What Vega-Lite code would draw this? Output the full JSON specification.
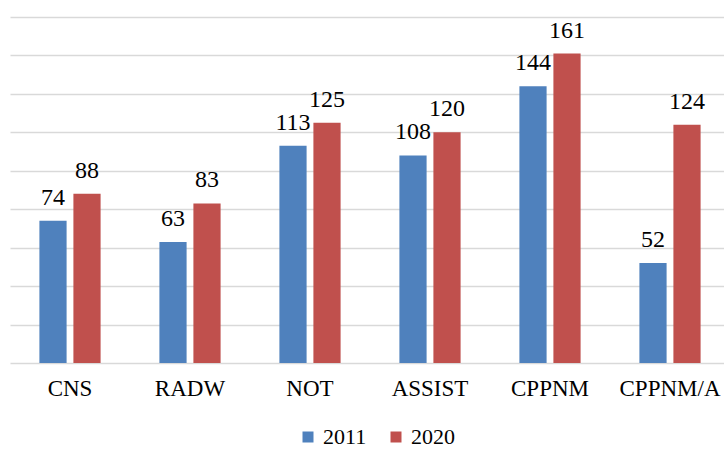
{
  "$schema": "https://vega.github.io/schema/vega-lite/v6.json",
  "width": 714,
  "height": 346,
  "autosize": {"type": "none"},
  "padding": {"left": 10, "top": 17, "right": 0, "bottom": 87},
  "config": {
    "font": "Liberation Serif",
    "view": {"stroke": null},
    "text": {"font": "Liberation Serif"},
    "legend": {"labelFont": "Liberation Serif"},
    "axis": {"labelFont": "Liberation Serif"}
  },
  "data": {
    "values": [
      {"treaty": "CNS", "year": "2011", "value": 74},
      {"treaty": "CNS", "year": "2020", "value": 88},
      {"treaty": "RADW", "year": "2011", "value": 63},
      {"treaty": "RADW", "year": "2020", "value": 83},
      {"treaty": "NOT", "year": "2011", "value": 113},
      {"treaty": "NOT", "year": "2020", "value": 125},
      {"treaty": "ASSIST", "year": "2011", "value": 108},
      {"treaty": "ASSIST", "year": "2020", "value": 120},
      {"treaty": "CPPNM", "year": "2011", "value": 144},
      {"treaty": "CPPNM", "year": "2020", "value": 161},
      {"treaty": "CPPNM/A", "year": "2011", "value": 52},
      {"treaty": "CPPNM/A", "year": "2020", "value": 124}
    ]
  },
  "encoding": {
    "x": {
      "field": "treaty",
      "type": "nominal",
      "sort": ["CNS", "RADW", "NOT", "ASSIST", "CPPNM", "CPPNM/A"],
      "scale": {"range": [0, 720], "paddingInner": 0.49, "paddingOuter": 0.245},
      "axis": {
        "title": null,
        "labelAngle": 0,
        "labelFont": "Liberation Serif",
        "labelFontSize": 23,
        "labelColor": "#000000",
        "ticks": false,
        "labelPadding": 14,
        "domainColor": "#d9d9d9",
        "domainWidth": 1.5,
        "grid": false
      }
    },
    "xOffset": {"field": "year", "type": "nominal", "scale": {"paddingInner": 0.2}},
    "y": {
      "field": "value",
      "type": "quantitative",
      "scale": {"domain": [0, 180], "nice": false},
      "axis": {
        "title": null,
        "labels": false,
        "ticks": false,
        "domain": false,
        "values": [20, 40, 60, 80, 100, 120, 140, 160, 180],
        "gridColor": "#d9d9d9",
        "gridWidth": 1.5
      }
    }
  },
  "layer": [
    {
      "mark": {"type": "bar"},
      "encoding": {
        "color": {
          "field": "year",
          "type": "nominal",
          "scale": {"domain": ["2011", "2020"], "range": ["#4f81bd", "#c0504d"]},
          "legend": {
            "orient": "none",
            "legendX": 287,
            "legendY": 409,
            "direction": "horizontal",
            "title": null,
            "symbolType": "square",
            "symbolSize": 121,
            "symbolStrokeWidth": 0,
            "labelFont": "Liberation Serif",
            "labelFontSize": 22,
            "labelColor": "#000000",
            "columnPadding": 18,
            "labelOffset": 4
          }
        }
      }
    },
    {
      "mark": {"type": "text", "font": "Liberation Serif", "baseline": "alphabetic", "dy": -16, "fontSize": 24, "color": "#000000"},
      "encoding": {"text": {"field": "value", "type": "quantitative"}}
    }
  ]
}
